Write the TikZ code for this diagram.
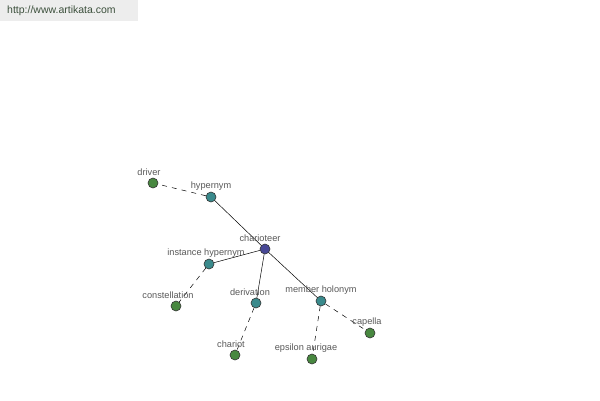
\documentclass[tikz,border=0pt]{standalone}
\usepackage{fontspec}
\setmainfont{Liberation Sans}
\begin{document}
\begin{tikzpicture}[x=1pt,y=-1pt,
  dot/.style={circle,draw=black!80,line width=0.6pt,minimum size=10pt,inner sep=0pt},
  root/.style={dot,fill={rgb,255:red,72;green,72;blue,150}},
  rel/.style={dot,fill={rgb,255:red,58;green,138;blue,140}},
  leaf/.style={dot,fill={rgb,255:red,72;green,136;blue,64}},
  lbl/.style={font=\fontsize{9.2}{10}\selectfont,text=black!65,inner sep=0pt},
  solidedge/.style={draw=black,line width=0.5pt},
  dashedge/.style={draw=black,line width=0.5pt,dash pattern=on 5pt off 5pt}]
\useasboundingbox (0,0) rectangle (600,400);
\fill[white] (0,0) rectangle (600,400);
\fill[black!7] (0,0) rectangle (138,21);
\node[anchor=west,inner sep=0pt,font=\fontsize{10.5}{11}\selectfont,text={rgb,255:red,60;green,80;blue,60}] (url) at (7,11) {http://www.artikata.com};
% nodes
\node[root] (c) at (265,249) {};
\node[rel] (hyp) at (211,197) {};
\node[leaf] (drv) at (153,183) {};
\node[rel] (ih) at (209,264) {};
\node[leaf] (con) at (176,306) {};
\node[rel] (der) at (256,303) {};
\node[leaf] (cht) at (235,355) {};
\node[rel] (mh) at (321,301) {};
\node[leaf] (eps) at (312,359) {};
\node[leaf] (cap) at (370,333) {};
% edges
\path[solidedge] (c) -- (hyp);
\path[solidedge] (c) -- (ih);
\path[solidedge] (c) -- (der);
\path[solidedge] (c) -- (mh);
\path[dashedge] (hyp) -- (drv);
\path[dashedge] (ih) -- (con);
\path[dashedge] (der) -- (cht);
\path[dashedge] (mh) -- (eps);
\path[dashedge] (mh) -- (cap);
% labels
\node[lbl] (lc) at (260,238) {charioteer};
\node[lbl] (lhyp) at (211,186) {hypernym};
\node[lbl] (ldrv) at (149,172) {driver};
\node[lbl] (lih) at (206,253) {instance hypernym};
\node[lbl] (lcon) at (168,295) {constellation};
\node[lbl] (lder) at (250,292) {derivation};
\node[lbl] (lcht) at (231,344) {chariot};
\node[lbl] (lmh) at (321,290) {member holonym};
\node[lbl] (leps) at (306,348) {epsilon aurigae};
\node[lbl] (lcap) at (367,322) {capella};
\end{tikzpicture}
\end{document}
